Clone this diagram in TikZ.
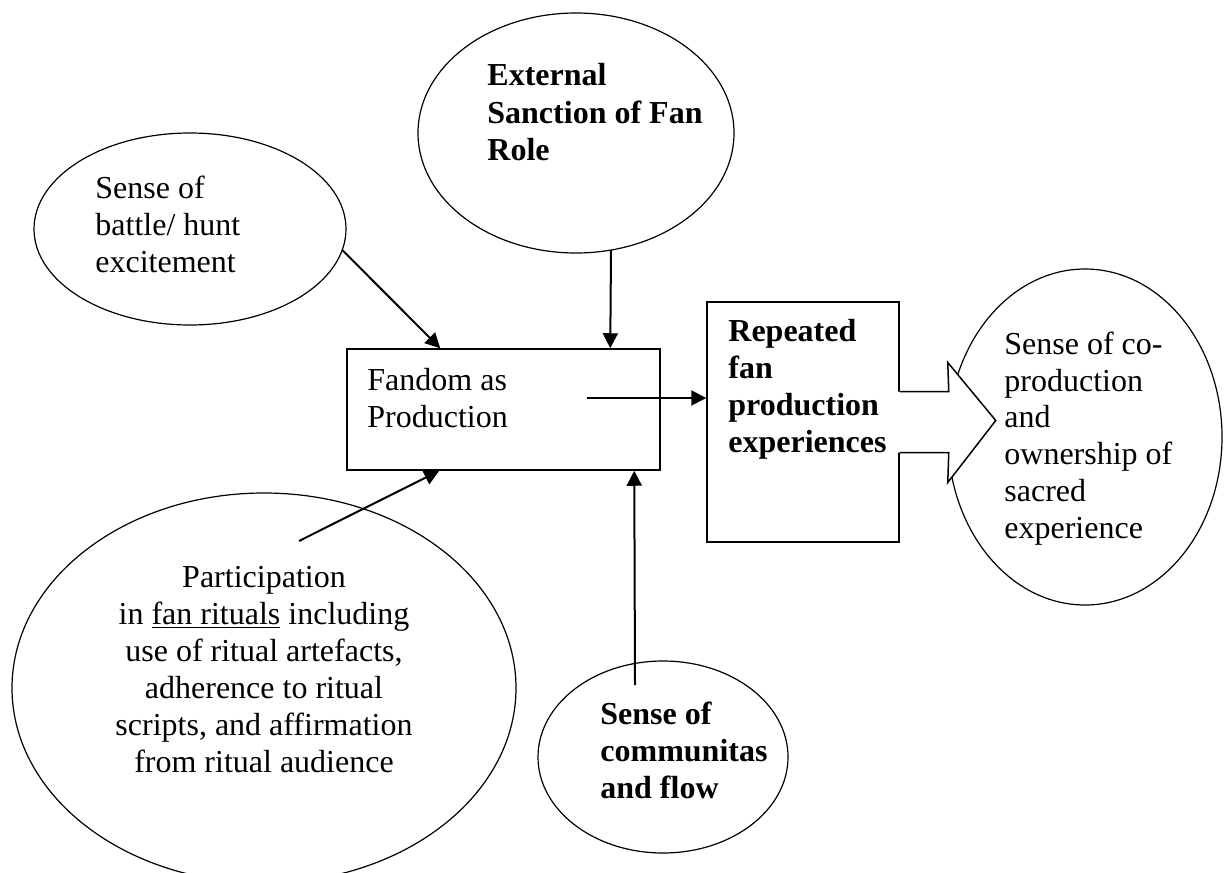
\documentclass[tikz,border=0pt]{standalone}
\usepackage{fontspec}
\setmainfont{Liberation Serif}
\usetikzlibrary{shapes.geometric,arrows.meta,calc}

\begin{document}
\begin{tikzpicture}[x=0.5pt,y=-0.5pt,
        oval/.style={draw,ellipse,line width=0.6pt,inner sep=0pt},
        box/.style={draw,rectangle,line width=0.75pt,inner sep=0pt},
        txt/.style={anchor=base west,inner sep=0pt,align=left,font=\fontsize{16}{18.5}\selectfont},
        arr/.style={-{Triangle[length=7.5pt,width=7.5pt]},line width=1pt}]
    \useasboundingbox (0,0) rectangle (1224,872);
    \clip (0,0) rectangle (1224,872);
    %\draw[lightgray] (0,0) grid (1224,872);
    \node[oval,minimum width=156pt,minimum height=96pt] (battle) at (190,229) {};
    \node[oval,minimum width=158pt,minimum height=120pt] (sanction) at (576,133) {};
    \node[oval,minimum width=137pt,minimum height=168pt] (coprod) at (1085,437) {};
    \node[oval,minimum width=252pt,minimum height=195pt] (rituals) at (264,688) {};
    \node[oval,minimum width=125pt,minimum height=96pt] (flow) at (663,757) {};
    \node[box,minimum width=156.5pt,minimum height=60.5pt] (fandom) at (503.5,409.5) {};
    \node[box,minimum width=96pt,minimum height=120pt] (repeated) at (803,422) {};
    % block arrow over the right oval
    \fill[white] ($(repeated.east)+(-2,-30.5)$) -- ++(51,0) -- ++(-1,-29) -- ++(48,58)
        -- ++(-48,62) -- ++(1,-30) -- ++(-51,0) -- cycle;
    \draw[line width=0.75pt] ($(repeated.east)+(0,-30.5)$) -- ++(49,0) -- ++(-1,-29) -- ++(48,58)
        -- ++(-48,62) -- ++(1,-30) -- ++(-49,0);
    % text nodes sit on the baseline of their last line
    \node[txt] (battletxt) at (95,272) {Sense of\\battle/ hunt\\excitement};
    \node[txt,font=\fontsize{16}{18.5}\selectfont\bfseries] (sanctiontxt) at (487,160) {External\\Sanction of Fan\\Role};
    \node[txt] (fandomtxt) at (367,427) {Fandom as\\Production};
    \node[txt,font=\fontsize{16}{18.35}\selectfont\bfseries] (repeatedtxt) at (728,452) {Repeated\\fan\\production\\experiences};
    \node[txt,font=\fontsize{16}{18.35}\selectfont] (coprodtxt) at (1004,538) {Sense of co-\\production\\and\\ownership of\\sacred\\experience};
    \node[txt,anchor=base,align=center] (ritualstxt) at (264,772) {Participation\\in \underline{fan rituals} including\\use of ritual artefacts,\\adherence to ritual\\scripts, and affirmation\\from ritual audience};
    \node[txt,font=\fontsize{16}{18.35}\selectfont\bfseries] (flowtxt) at (600,798) {Sense of\\communitas\\and flow};
    \draw[arr] (battle.-8) -- ($(fandom.north west)+(94,0)$);
    \draw[arr] ($(sanction.center)+(35,117)$) -- ($(fandom.north west)+(264,0)$);
    \draw[arr] ($(fandom.east)+(-74,-11.5)$) -- ($(repeated.west)+(0,-24)$);
    \draw[arr] ($(rituals.center)+(35,-147)$) -- ($(fandom.south west)+(93,0)$);
    \draw[arr] ($(flow.center)+(-28,-72)$) -- ($(fandom.south west)+(288,0)$);
\end{tikzpicture}
\end{document}
